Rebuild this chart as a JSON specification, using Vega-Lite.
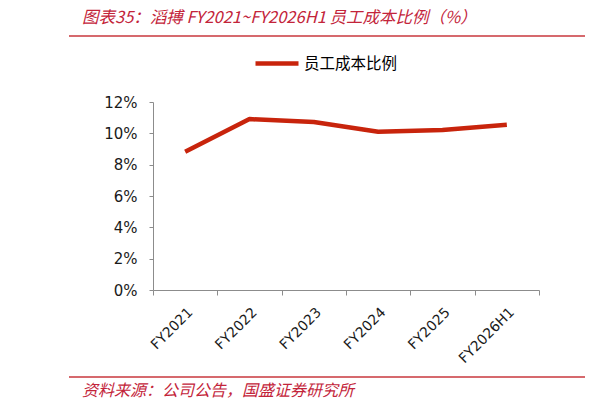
{
  "$schema": "https://vega.github.io/schema/vega-lite/v6.json",
  "autosize": {"type": "pad"},
  "padding": {"left": 68, "top": 9, "right": 0, "bottom": 6},
  "background": "white",
  "spacing": 10,
  "config": {
    "view": {"stroke": null},
    "font": "Noto Sans CJK SC"
  },
  "vconcat": [
    {
      "width": 516,
      "height": 49,
      "data": {"values": [{"k": 1}]},
      "mark": {"type": "rule", "color": "#D6696D", "strokeWidth": 2},
      "encoding": {
        "y": {"datum": 1, "type": "quantitative", "scale": {"domain": [0, 1]}, "axis": null}
      },
      "title": {
        "text": "图表35：滔搏 FY2021~FY2026H1 员工成本比例（%）",
        "anchor": "start",
        "dx": 14,
        "offset": -4,
        "baseline": "alphabetic",
        "font": "Noto Sans CJK SC",
        "fontSize": 16.5,
        "fontStyle": "italic",
        "fontWeight": "normal",
        "color": "#C3243A"
      }
    },
    {
      "hconcat": [
        {
          "width": 84,
          "height": 188,
          "data": {"values": []},
          "mark": "point"
        },
        {
          "width": 386,
          "height": 188,
          "data": {
            "values": [
              {"year": "FY2021", "ratio": 0.0883},
              {"year": "FY2022", "ratio": 0.1091},
              {"year": "FY2023", "ratio": 0.1072},
              {"year": "FY2024", "ratio": 0.1010},
              {"year": "FY2025", "ratio": 0.1021},
              {"year": "FY2026H1", "ratio": 0.1055}
            ]
          },
          "mark": {"type": "line", "strokeWidth": 4.5, "strokeJoin": "round"},
          "encoding": {
            "x": {
              "field": "year",
              "type": "nominal",
              "sort": null,
              "scale": {"type": "band", "paddingInner": 0, "paddingOuter": 0},
              "axis": {
                "title": null,
                "labelAngle": -45,
                "tickBand": "extent",
                "labelFont": "DejaVu Sans",
                "labelFontSize": 14,
                "labelColor": "#1a1a1a",
                "domainColor": "#8c8c8c",
                "tickColor": "#8c8c8c",
                "tickSize": 5,
                "labelPadding": 10,
                "grid": false
              }
            },
            "y": {
              "field": "ratio",
              "type": "quantitative",
              "scale": {"domain": [0, 0.12], "nice": false},
              "axis": {
                "title": null,
                "format": ".0%",
                "values": [0, 0.02, 0.04, 0.06, 0.08, 0.1, 0.12],
                "tickSize": 4,
                "labelPadding": 12,
                "labelFont": "DejaVu Sans",
                "labelFontSize": 15,
                "labelColor": "#1a1a1a",
                "domainColor": "#8c8c8c",
                "tickColor": "#8c8c8c",
                "grid": false
              }
            },
            "color": {
              "datum": "员工成本比例",
              "type": "nominal",
              "scale": {"range": ["#C8240C"]},
              "legend": {
                "title": null,
                "orient": "none",
                "legendX": 184,
                "legendY": 3.5,
                "symbolType": "stroke",
                "symbolSize": 1849,
                "symbolStrokeWidth": 4.5,
                "labelFont": "Noto Sans CJK SC",
                "labelFontSize": 15.5,
                "labelColor": "#000000",
                "labelOffset": 3
              }
            }
          }
        }
      ],
      "spacing": 0,
      "bounds": "flush"
    },
    {
      "width": 516,
      "height": 1,
      "data": {"values": [{"k": 1}]},
      "mark": {"type": "rule", "color": "#D6696D", "strokeWidth": 2},
      "encoding": {
        "y": {"datum": 1, "type": "quantitative", "scale": {"domain": [0, 1]}, "axis": null}
      },
      "title": {
        "text": "资料来源：公司公告，国盛证券研究所",
        "orient": "bottom",
        "anchor": "start",
        "dx": 14,
        "offset": 18,
        "baseline": "alphabetic",
        "font": "Noto Sans CJK SC",
        "fontSize": 16,
        "fontStyle": "italic",
        "fontWeight": "normal",
        "color": "#C3243A"
      }
    }
  ]
}
